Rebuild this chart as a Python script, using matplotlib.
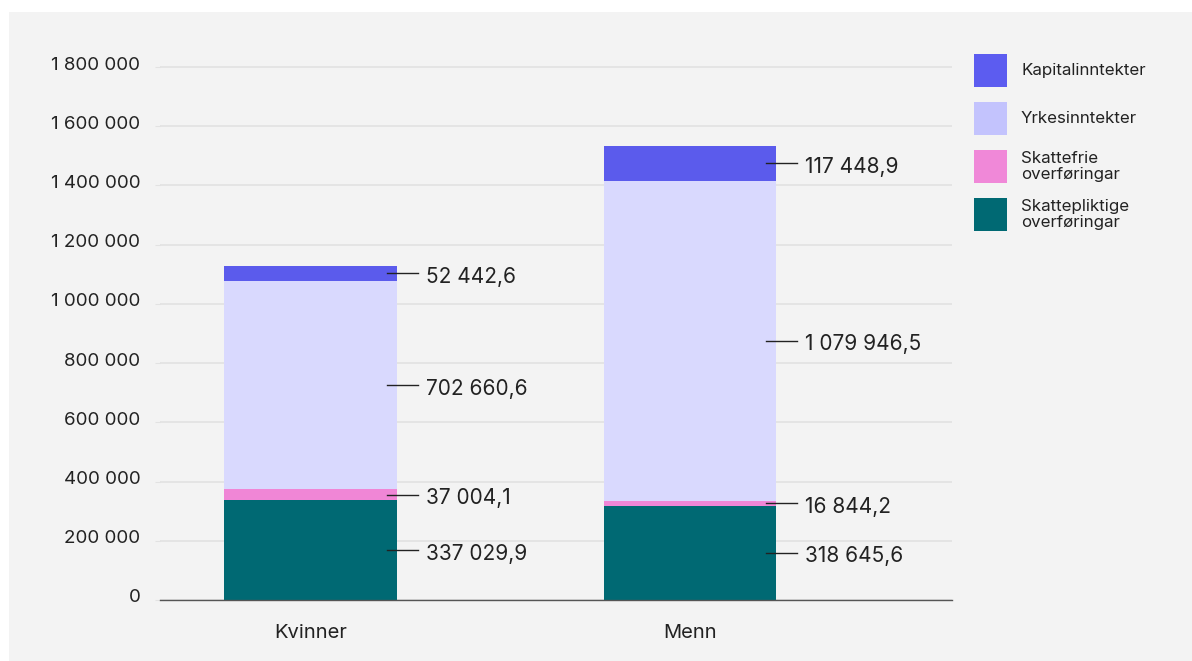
import matplotlib
matplotlib.use('Agg')
import matplotlib.pyplot as plt
import matplotlib.transforms as mtransforms
from matplotlib.patches import Rectangle
import numpy as np

plt.rcParams['font.family'] = ['Inter', 'DejaVu Sans']

# data
categories = ['Kvinner', 'Menn']
series_names = ['Skattepliktige\noverføringar', 'Skattefrie\noverføringar',
                'Yrkesinntekter', 'Kapitalinntekter']
skattepliktige = [337029.9, 318645.6]
skattefrie = [37004.1, 16844.2]
yrkes = [702660.6, 1079946.5]
kapital = [52442.6, 117448.9]
y_ticks = [0, 200000, 400000, 600000, 800000, 1000000, 1200000, 1400000, 1600000, 1800000]

bar_colors = ['#006973', '#f086d6', '#d9d9fe', '#5b5bec']
legend_colors = ['#006973', '#f088d8', '#c3c3fd', '#5c5cf0']
text_color = '#222222'


def fmt(v, dec=True):
    if dec:
        s = f'{v:,.1f}'
    else:
        s = f'{v:,.0f}'
    return s.replace(',', ' ').replace('.', ',')


W, H = 1192, 661
fig = plt.figure(figsize=(W / 100, H / 100), dpi=100)
fig.patch.set_facecolor('white')
fig.add_artist(Rectangle((9 / W, 0), 1, 1 - 12 / H, transform=fig.transFigure,
                         facecolor='#f3f3f3', edgecolor='none', zorder=-10))

# axes: x 160..952 px, y=0 at 600 px, 1.8M at 67 px
ymax = 1850000
px_per = (600 - 67) / 1800000
top_px = 600 - ymax * px_per
ax = fig.add_axes([160 / W, 1 - 600 / H, (952 - 160) / W, (600 - top_px) / H])
ax.set_facecolor('none')

x = np.arange(len(categories))
width = 0.456
px = 1 / 379.0  # one pixel in x data units
text_shift = mtransforms.offset_copy(ax.transData, fig=fig, x=0, y=-3.5, units='dots')

series = [skattepliktige, skattefrie, yrkes, kapital]
bottom = np.zeros(len(categories))
for vals, col in zip(series, bar_colors):
    vals = np.array(vals)
    ax.bar(x, vals, width, bottom=bottom, color=col, zorder=3)
    for xi, b, v in zip(x, bottom, vals):
        mid = b + v / 2
        right = xi + width / 2
        ax.plot([right - 10 * px, right + 21 * px], [mid, mid], color=text_color, lw=1.0, zorder=4)
        ax.text(right + 29 * px, mid, fmt(v), ha='left', va='center', fontsize=15,
                color=text_color, zorder=5, transform=text_shift)
    bottom = bottom + vals

ax.set_xlim(-0.398, 1.691)
ax.set_ylim(0, ymax)
ax.set_yticks(y_ticks)
ax.set_yticklabels([fmt(t, dec=False) for t in y_ticks], fontsize=13.5, color=text_color)
ax.set_xticks(x)
ax.set_xticklabels(categories, fontsize=14.5, color=text_color)
ax.tick_params(axis='y', length=3.6, color='#e2e2e2', pad=10.5)
ax.tick_params(axis='x', length=0, pad=17)
up = mtransforms.ScaledTranslation(0, 4 / 100, fig.dpi_scale_trans)
for lab in ax.get_yticklabels():
    lab.set_transform(lab.get_transform() + up)
ax.yaxis.grid(True, color='#e2e2e2', lw=1.2, zorder=0)
for s in ['top', 'right', 'left']:
    ax.spines[s].set_visible(False)
ax.spines['bottom'].set_color('#555555')
ax.spines['bottom'].set_linewidth(1.0)
ax.spines['bottom'].set_zorder(6)

# legend (top to bottom)
leg_names = series_names[::-1]
leg_cols = legend_colors[::-1]
for i, (name, col) in enumerate(zip(leg_names, leg_cols)):
    top = 54 + i * 48
    fig.add_artist(Rectangle((974 / W, 1 - (top + 33) / H), 33 / W, 33 / H,
                             transform=fig.transFigure, facecolor=col, edgecolor='none'))
    fig.text(1021 / W, 1 - (top + 16.5) / H, name, ha='left', va='center',
             fontsize=12.2, color=text_color, linespacing=1.1)

fig.savefig('out.png', dpi=100)
